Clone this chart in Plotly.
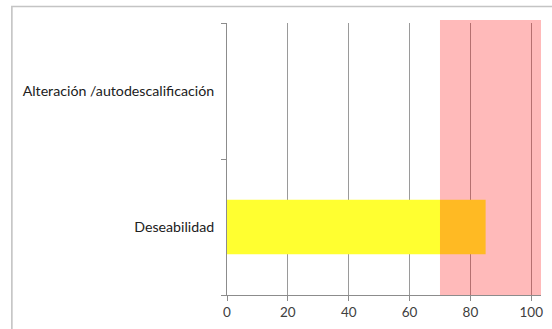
import plotly.graph_objects as go

# Scale categories, listed bottom to top
categories = ["Deseabilidad", "Alteración /autodescalificación"]
scores = [85, 0]

# Highlighted range on the score axis
band_start = 70
band_end = 103.2

x_ticks = [0, 20, 40, 60, 80, 100]

W, H = 552, 329
L, R, T, B = 227, 9, 23, 34
plot_w = W - L - R
plot_h = H - T - B

fig = go.Figure()
fig.add_trace(go.Bar(
    y=categories,
    x=scores,
    orientation="h",
    marker=dict(color="#FFFF30", line=dict(width=0)),
    hoverinfo="x+y",
))

# Translucent red band drawn over the bars and grid
fig.add_shape(
    type="rect", xref="x", yref="paper",
    x0=band_start, x1=band_end, y0=0, y1=1.011,
    fillcolor="rgba(255,0,0,0.27)", line=dict(width=0), layer="above",
)

# Outer chart frame (left and top edges visible)
fig.add_shape(
    type="rect", xref="paper", yref="paper",
    x0=(10.5 - L) / plot_w, x1=2.0,
    y0=-1.0, y1=(H - B - 6.5) / plot_h,
    line=dict(color="#C4C4C4", width=1.6), fillcolor="rgba(0,0,0,0)",
    layer="below",
)

fig.update_layout(
    width=W, height=H,
    margin=dict(l=L, r=R, t=T, b=B, pad=0),
    paper_bgcolor="white", plot_bgcolor="white",
    showlegend=False,
    bargap=0.6,
    font=dict(family="Lato, sans-serif", size=14, color="#404040"),
)
fig.update_xaxes(
    range=[0, band_end],
    tickvals=x_ticks,
    showgrid=True, gridcolor="#9A9A9A", gridwidth=1,
    showline=True, linecolor="#8C8C8C", linewidth=1,
    ticks="outside", ticklen=5, tickcolor="#8C8C8C",
    zeroline=False,
    tickfont=dict(size=13.5, color="#404040"),
)
fig.update_yaxes(
    type="category",
    categoryorder="array", categoryarray=categories,
    showgrid=False,
    showline=True, linecolor="#8C8C8C", linewidth=1,
    ticks="outside", ticklen=5, tickcolor="#8C8C8C",
    tickson="boundaries",
    ticklabelstandoff=9,
    tickfont=dict(size=14.2, color="#202020"),
)

fig.write_html("out.html")
